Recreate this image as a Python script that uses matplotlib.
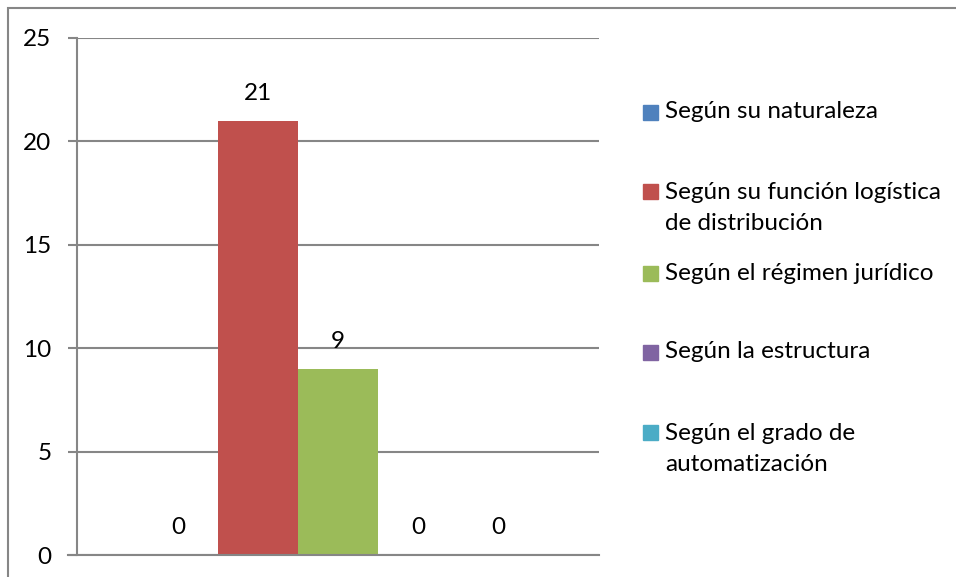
import numpy as np
import matplotlib.pyplot as plt
from matplotlib.patches import Rectangle

plt.rcParams['font.family'] = ['Lato', 'DejaVu Sans']

series = ['Según su naturaleza',
          'Según su función logística\nde distribución',
          'Según el régimen jurídico',
          'Según la estructura',
          'Según el grado de\nautomatización']
values = [0, 21, 9, 0, 0]
colors = ['#4F81BD', '#C0504D', '#9BBB59', '#8064A2', '#4BACC6']
yticks = [0, 5, 10, 15, 20, 25]

W, H = 956, 577
fig = plt.figure(figsize=(W / 100, H / 100), dpi=100)
ax = fig.add_axes([77 / W, 1 - 555 / H, (599 - 77) / W, (555 - 38) / H])

bw = 80 / 522
n = len(values)
xs = (np.arange(n) - (n - 1) / 2) * bw
ax.bar(xs, values, width=bw, color=colors, zorder=3)
for x, v in zip(xs, values):
    ax.annotate(str(v), (x, v), xytext=(0, 27), textcoords='offset pixels',
                ha='center', va='center', fontsize=17.5, color='black')

ax.set_xlim(-0.5, 0.5)
ax.set_ylim(0, 25)
ax.set_yticks(yticks)
ax.set_xticks([])
ax.grid(axis='y', color='#868686', linewidth=1.5, zorder=0)
ax.tick_params(axis='y', length=9 * 0.72, width=1.5, color='#868686',
               labelsize=17.5, pad=12)
for s in ['top', 'right']:
    ax.spines[s].set_visible(False)
for s in ['left', 'bottom']:
    ax.spines[s].set_color('#868686')
    ax.spines[s].set_linewidth(1.5)
ax.spines['bottom'].set_bounds(-0.5 - 9 / 522, 0.5)
ax.spines['bottom'].set_zorder(4)

# outer chart border (cut at right/bottom)
fig.patches.append(Rectangle((8 / W, -0.1), 1.2, 1.1 - 8 / H,
                             transform=fig.transFigure, fill=False,
                             edgecolor='#868686', linewidth=1.5))

# legend
leg_y = [112, 208, 273, 352, 449]
for lab, c, y in zip(series, colors, leg_y):
    nl = lab.count('\n') + 1
    first = y - (nl - 1) * 33 / 2
    fig.patches.append(Rectangle((643 / W, 1 - (first + 7.5) / H), 15 / W, 15 / H,
                                 transform=fig.transFigure, color=c))
    fig.text(665 / W, 1 - y / H, lab, ha='left', va='center', fontsize=17.5,
             linespacing=1.6)

fig.savefig('out.png', dpi=100)
